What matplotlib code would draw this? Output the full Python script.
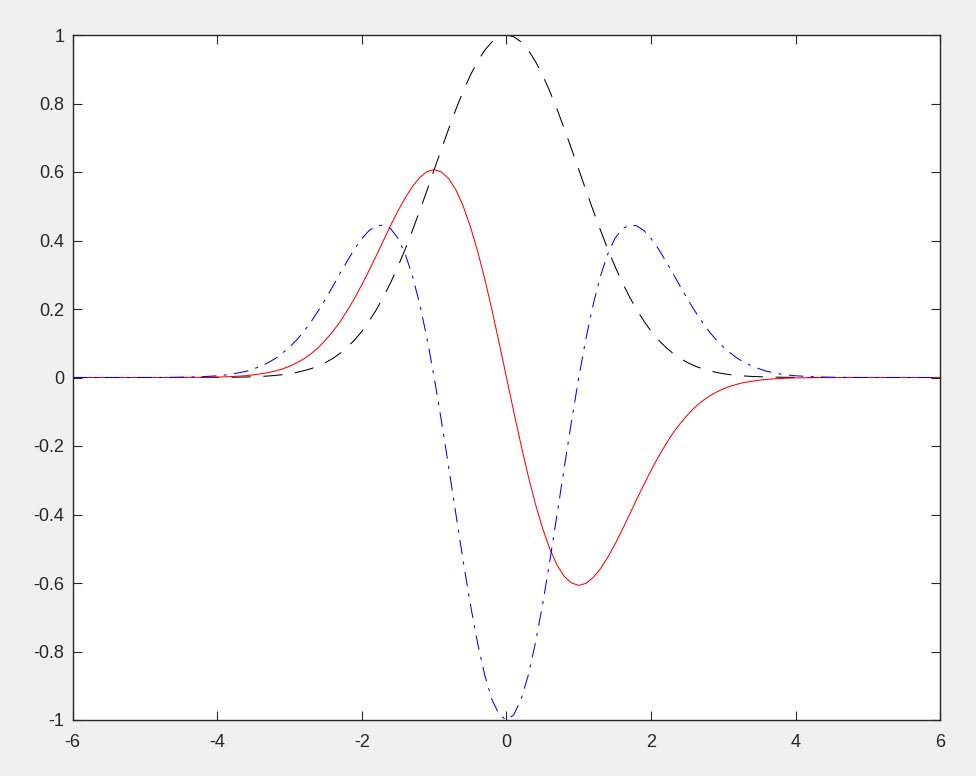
import matplotlib
matplotlib.use("Agg")
import matplotlib.pyplot as plt

x = [-6.0, -5.8, -5.6, -5.4, -5.2, -5.0, -4.8, -4.6, -4.4, -4.2,
     -4.0, -3.9, -3.8, -3.7, -3.6, -3.5, -3.4, -3.3, -3.2, -3.1,
     -3.0, -2.9, -2.8, -2.7, -2.6, -2.5, -2.4, -2.3, -2.2, -2.1,
     -2.0, -1.9, -1.8, -1.7, -1.6, -1.5, -1.4, -1.3, -1.2, -1.1,
     -1.0, -0.9, -0.8, -0.7, -0.6, -0.5, -0.4, -0.3, -0.2, -0.1,
     0.0,
     0.1, 0.2, 0.3, 0.4, 0.5, 0.6, 0.7, 0.8, 0.9, 1.0,
     1.1, 1.2, 1.3, 1.4, 1.5, 1.6, 1.7, 1.8, 1.9, 2.0,
     2.1, 2.2, 2.3, 2.4, 2.5, 2.6, 2.7, 2.8, 2.9, 3.0,
     3.1, 3.2, 3.3, 3.4, 3.5, 3.6, 3.7, 3.8, 3.9, 4.0,
     4.2, 4.4, 4.6, 4.8, 5.0, 5.2, 5.4, 5.6, 5.8, 6.0]

gauss = [0, 0, 0, 0, 0, 0, 0, 0, 0.0001, 0.0001,
         0.0003, 0.0005, 0.0007, 0.0011, 0.0015, 0.0022, 0.003, 0.0043, 0.006, 0.0082,
         0.011, 0.015, 0.020, 0.026, 0.034, 0.044, 0.056, 0.071, 0.089, 0.110,
         0.135, 0.165, 0.198, 0.236, 0.278, 0.325, 0.375, 0.430, 0.487, 0.546,
         0.607, 0.667, 0.726, 0.783, 0.835, 0.8825, 0.923, 0.956, 0.980, 0.995,
         1.0,
         0.995, 0.980, 0.956, 0.923, 0.8825, 0.835, 0.783, 0.726, 0.667, 0.607,
         0.546, 0.487, 0.430, 0.375, 0.325, 0.278, 0.236, 0.198, 0.165, 0.135,
         0.110, 0.089, 0.071, 0.056, 0.044, 0.034, 0.026, 0.020, 0.015, 0.011,
         0.0082, 0.006, 0.0043, 0.003, 0.0022, 0.0015, 0.0011, 0.0007, 0.0005, 0.0003,
         0.0001, 0.0001, 0, 0, 0, 0, 0, 0, 0, 0]

first_deriv = [0, 0, 0, 0, 0, 0, 0, 0.0001, 0.0003, 0.0006,
               0.0013, 0.0019, 0.0028, 0.0040, 0.0055, 0.0077, 0.011, 0.014, 0.019, 0.025,
               0.033, 0.043, 0.055, 0.070, 0.088, 0.110, 0.135, 0.163, 0.196, 0.232,
               0.271, 0.313, 0.356, 0.401, 0.445, 0.487, 0.525, 0.558, 0.584, 0.601,
               0.607, 0.600, 0.581, 0.548, 0.501, 0.441, 0.369, 0.287, 0.196, 0.0995,
               0.0,
               -0.0995, -0.196, -0.287, -0.369, -0.441, -0.501, -0.548, -0.581, -0.600, -0.607,
               -0.601, -0.584, -0.558, -0.525, -0.487, -0.445, -0.401, -0.356, -0.313, -0.271,
               -0.232, -0.196, -0.163, -0.135, -0.110, -0.088, -0.070, -0.055, -0.043, -0.033,
               -0.025, -0.019, -0.014, -0.011, -0.0077, -0.0055, -0.0040, -0.0028, -0.0019, -0.0013,
               -0.0006, -0.0003, -0.0001, 0, 0, 0, 0, 0, 0, 0]

second_deriv = [0, 0, 0, 0, 0, 0.0001, 0.0002, 0.0005, 0.0012, 0.0025,
                0.0050, 0.0071, 0.0098, 0.014, 0.018, 0.025, 0.033, 0.043, 0.055, 0.071,
                0.089, 0.110, 0.135, 0.164, 0.196, 0.230, 0.267, 0.305, 0.341, 0.376,
                0.406, 0.429, 0.443, 0.445, 0.434, 0.406, 0.360, 0.296, 0.214, 0.115,
                0.0, -0.127, -0.261, -0.399, -0.535, -0.662, -0.775, -0.870, -0.941, -0.985,
                -1.0,
                -0.985, -0.941, -0.870, -0.775, -0.662, -0.535, -0.399, -0.261, -0.127, 0.0,
                0.115, 0.214, 0.296, 0.360, 0.406, 0.434, 0.445, 0.443, 0.429, 0.406,
                0.376, 0.341, 0.305, 0.267, 0.230, 0.196, 0.164, 0.135, 0.110, 0.089,
                0.071, 0.055, 0.043, 0.033, 0.025, 0.018, 0.014, 0.0098, 0.0071, 0.0050,
                0.0025, 0.0012, 0.0005, 0.0002, 0.0001, 0, 0, 0, 0, 0]

xticks = [-6, -4, -2, 0, 2, 4, 6]
yticks = [-1, -0.8, -0.6, -0.4, -0.2, 0, 0.2, 0.4, 0.6, 0.8, 1]
ytick_labels = ["-1", "-0.8", "-0.6", "-0.4", "-0.2", "0", "0.2", "0.4", "0.6", "0.8", "1"]

plt.rcParams['font.family'] = ['Liberation Sans', 'DejaVu Sans']

fig = plt.figure(figsize=(9.76, 7.76), dpi=100, facecolor='#f0f0f0')
ax = fig.add_axes([72.7 / 976, 1 - 720 / 776, (940.3 - 72.7) / 976, (720 - 35) / 776])
ax.set_facecolor('white')

lw = 0.75
ax.plot(x, gauss, color='black', lw=lw, linestyle=(0, (18.5, 12.0)))
ax.plot(x, first_deriv, color='red', lw=lw, linestyle='-')
ax.plot(x, second_deriv, color='blue', lw=lw, linestyle=(0, (14.0, 7.0, 3.0, 7.0)))

ax.set_xlim(-6, 6)
ax.set_ylim(-1, 1)
ax.set_xticks(xticks)
ax.set_xticklabels([str(t) for t in xticks])
ax.set_yticks(yticks)
ax.set_yticklabels(ytick_labels)

for s in ax.spines.values():
    s.set_color('#262626')
    s.set_linewidth(1.0)
ax.tick_params(direction='in', length=6.5, width=0.8, colors='#262626',
               top=True, right=True, labelsize=13)
ax.tick_params(axis='x', pad=10)
ax.tick_params(axis='y', pad=6)

fig.savefig('out.png', dpi=100, facecolor=fig.get_facecolor())
